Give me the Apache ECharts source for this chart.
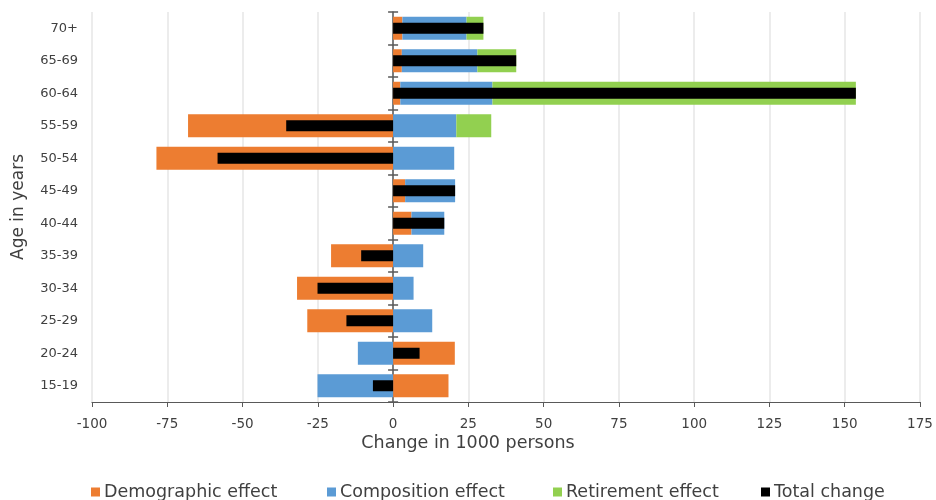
<!DOCTYPE html>
<html>
<head>
<meta charset="utf-8">
<script src="https://cdn.jsdelivr.net/npm/echarts@6/dist/echarts.min.js"></script>
<style>
  html, body { margin: 0; padding: 0; background: #fff; }
  #chart { width: 936px; height: 500px; }
</style>
</head>
<body>
<div id="chart"></div>
<script>
// Age groups, bottom to top
const ageGroups = ['15-19', '20-24', '25-29', '30-34', '35-39', '40-44', '45-49', '50-54', '55-59', '60-64', '65-69', '70+'];
// Effects on employment, in 1000 persons
const demographicEffect = [18.4, 20.5, -28.5, -31.9, -20.6, 6.1, 4.0, -78.6, -68.1, 2.4, 2.9, 3.1];
const compositionEffect = [-25.1, -11.7, 13.0, 6.8, 10.0, 10.9, 16.6, 20.3, 21.0, 30.6, 25.1, 21.3];
const retirementEffect = [null, null, null, null, null, null, null, null, 11.6, 120.7, 12.9, 5.6];
const totalChange = [-6.7, 8.8, -15.5, -25.1, -10.6, 17.0, 20.6, -58.3, -35.5, 153.7, 40.9, 30.0];
const xTicks = { min: -100, max: 175, step: 25 };

const FONT = '"DejaVu Sans", sans-serif';
const TEXT = '#404040';
const AXIS = '#595959';
const COLORS = { demo: '#ED7D31', comp: '#5B9BD5', ret: '#92D050', total: '#000000' };
const GRID_LEFT = 92;

const chart = echarts.init(document.getElementById('chart'), null, { renderer: 'canvas' });

function legendAt(left, name) {
  return {
    data: [name], left: left, top: 478, orient: 'horizontal',
    itemWidth: 9, itemHeight: 9, itemGap: 6, icon: 'rect',
    selectedMode: false,
    textStyle: { fontFamily: FONT, fontSize: 17.5, color: TEXT, padding: [0, 0, 0, -1] }
  };
}

const zeroAxisBase = {
  type: 'category', data: ageGroups, position: 'left',
  axisLabel: { show: false }, splitLine: { show: false }
};

chart.setOption({
  animation: false,
  grid: { left: GRID_LEFT, right: 16, top: 12, bottom: 98, containLabel: false },
  xAxis: {
    type: 'value', min: xTicks.min, max: xTicks.max, interval: xTicks.step,
    axisLine: { show: true, onZero: false, lineStyle: { color: AXIS, width: 1.2 } },
    axisTick: { show: true, length: 5, lineStyle: { color: AXIS } },
    axisLabel: { fontFamily: FONT, fontSize: 13.5, color: TEXT, margin: 15 },
    splitLine: { show: true, lineStyle: { color: '#e6e6e6', width: 1.5 } }
  },
  yAxis: [
    {
      type: 'category', data: ageGroups, position: 'left',
      axisLine: { show: false, onZero: false }, axisTick: { show: false },
      axisLabel: { fontFamily: FONT, fontSize: 13, color: TEXT, margin: 14 },
      name: 'Age in years', nameLocation: 'middle', nameGap: 65, nameRotate: 90,
      nameTextStyle: { fontFamily: FONT, fontSize: 17, color: TEXT }
    },
    // vertical line through zero, ticks pointing left
    Object.assign({}, zeroAxisBase, {
      axisLine: { show: true, onZero: true, lineStyle: { color: AXIS, width: 1.5 } },
      axisTick: { show: true, length: 5, inside: false, lineStyle: { color: AXIS, width: 1.5 } }
    }),
    // same line, ticks pointing right (placed on zero below)
    Object.assign({}, zeroAxisBase, {
      axisLine: { show: false, onZero: false },
      axisTick: { show: true, length: 5, inside: true, lineStyle: { color: AXIS, width: 1.5 } }
    })
  ],
  legend: [
    legendAt(86, 'Demographic effect'),
    legendAt(322, 'Composition effect'),
    legendAt(548, 'Retirement effect'),
    legendAt(756, 'Total change')
  ],
  graphic: [{
    type: 'text', left: 'center', top: 434,
    style: { text: 'Change in 1000 persons', fontFamily: FONT, fontSize: 17.5, fill: TEXT },
    x: -32
  }],
  series: [
    { name: 'Demographic effect', type: 'bar', stack: 'effects', yAxisIndex: 0, barWidth: 23,
      itemStyle: { color: COLORS.demo }, data: demographicEffect },
    { name: 'Composition effect', type: 'bar', stack: 'effects', yAxisIndex: 0, barWidth: 23,
      itemStyle: { color: COLORS.comp }, data: compositionEffect },
    { name: 'Retirement effect', type: 'bar', stack: 'effects', yAxisIndex: 0, barWidth: 23,
      itemStyle: { color: COLORS.ret }, data: retirementEffect },
    { name: 'Total change', type: 'bar', yAxisIndex: 1, barWidth: 11, z: 5,
      itemStyle: { color: COLORS.total }, data: totalChange }
  ]
});

// move the right-pointing ticks onto the zero line using the x scale
const zeroX = chart.convertToPixel({ xAxisIndex: 0 }, 0);
chart.setOption({ yAxis: [{}, {}, { offset: GRID_LEFT - zeroX }] });
</script>
</body>
</html>
